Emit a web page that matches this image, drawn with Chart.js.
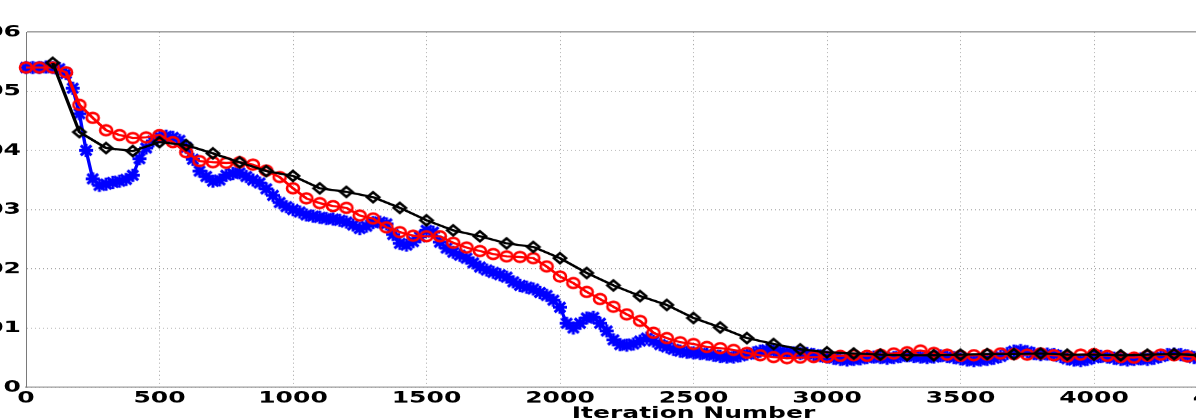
<!DOCTYPE html>
<html>
<head>
<meta charset="utf-8">
<script src="https://cdn.jsdelivr.net/npm/chart.js@4.4.1/dist/chart.umd.min.js"></script>
<style>
  html, body { margin: 0; padding: 0; background: #fff; overflow: hidden; width: 1196px; height: 419px; }
  #wrap { position: absolute; left: -41px; top: 0; transform: scaleY(0.64); transform-origin: 0 0; }
</style>
</head>
<body>
<div id="wrap"><canvas id="chart-canvas" width="1442" height="685"></canvas></div>
<script>
// blue '*' series, one value every 25 iterations (0 .. 4500)
const blueStep = 25;
const blueValues = [
    0.0540, 0.0540, 0.0540, 0.0541, 0.0540, 0.0538, 0.0530, 0.0505, // 0
    0.0462, 0.0400, 0.0352, 0.0341, 0.0343, 0.0346, 0.0348, 0.0351, // 200
    0.0358, 0.0386, 0.0404, 0.0416, 0.0423, 0.0424, 0.0422, 0.0417, // 400
    0.0405, 0.0385, 0.0365, 0.0356, 0.0348, 0.0350, 0.0358, 0.0361, // 600
    0.0362, 0.0356, 0.0350, 0.0345, 0.0335, 0.0324, 0.0312, 0.0305, // 800
    0.0300, 0.0296, 0.0291, 0.0289, 0.0287, 0.0285, 0.0284, 0.0282, // 1000
    0.0279, 0.0274, 0.0268, 0.0272, 0.0278, 0.0279, 0.0276, 0.0258, // 1200
    0.0243, 0.0240, 0.0246, 0.0254, 0.0265, 0.0262, 0.0245, 0.0235, // 1400
    0.0228, 0.0223, 0.0218, 0.0210, 0.0203, 0.0198, 0.0194, 0.0190, // 1600
    0.0186, 0.0178, 0.0172, 0.0169, 0.0166, 0.0160, 0.0155, 0.0147, // 1800
    0.0135, 0.0108, 0.0100, 0.0108, 0.0117, 0.0118, 0.0108, 0.0095, // 2000
    0.0080, 0.0072, 0.0071, 0.0073, 0.0078, 0.0083, 0.0078, 0.0072, // 2200
    0.0068, 0.0064, 0.0061, 0.0059, 0.0058, 0.0057, 0.0056, 0.0054, // 2400
    0.0052, 0.0051, 0.0051, 0.0053, 0.0056, 0.0058, 0.0061, 0.0063, // 2600
    0.0061, 0.0060, 0.0059, 0.0058, 0.0057, 0.0057, 0.0055, 0.0053, // 2800
    0.0051, 0.0049, 0.0047, 0.0046, 0.0047, 0.0048, 0.0050, 0.0051, // 3000
    0.0050, 0.0049, 0.0050, 0.0052, 0.0053, 0.0052, 0.0051, 0.0050, // 3200
    0.0051, 0.0053, 0.0052, 0.0050, 0.0048, 0.0046, 0.0045, 0.0046, // 3400
    0.0047, 0.0049, 0.0052, 0.0057, 0.0061, 0.0062, 0.0060, 0.0057, // 3600
    0.0055, 0.0056, 0.0055, 0.0052, 0.0048, 0.0046, 0.0045, 0.0047, // 3800
    0.0050, 0.0052, 0.0051, 0.0049, 0.0047, 0.0046, 0.0047, 0.0048, // 4000
    0.0047, 0.0049, 0.0052, 0.0055, 0.0056, 0.0055, 0.0053, 0.0050, // 4200
    0.0049, 0.0050, 0.0051, 0.0050, 0.0049                          // 4400
];

// red 'o' series, every 50 iterations
const redStep = 50;
const redValues = [
    0.0540, 0.0540, 0.0540, 0.0532, 0.0477, 0.0455, 0.0434, 0.0426, // 0
    0.0421, 0.0422, 0.0426, 0.0414, 0.0397, 0.0382, 0.0380, 0.0379, // 400
    0.0380, 0.0376, 0.0366, 0.0355, 0.0336, 0.0319, 0.0311, 0.0306, // 800
    0.0303, 0.0290, 0.0285, 0.0270, 0.0262, 0.0256, 0.0255, 0.0255, // 1200
    0.0244, 0.0236, 0.0230, 0.0225, 0.0221, 0.0220, 0.0218, 0.0204, // 1600
    0.0187, 0.0176, 0.0161, 0.0149, 0.0136, 0.0123, 0.0112, 0.0092, // 2000
    0.0083, 0.0076, 0.0073, 0.0068, 0.0066, 0.0063, 0.0058, 0.0054, // 2400
    0.0051, 0.0049, 0.0050, 0.0051, 0.0051, 0.0053, 0.0054, 0.0053, // 2800
    0.0055, 0.0057, 0.0059, 0.0062, 0.0058, 0.0055, 0.0053, 0.0054, // 3200
    0.0055, 0.0057, 0.0056, 0.0055, 0.0057, 0.0054, 0.0052, 0.0055, // 3600
    0.0056, 0.0053, 0.0051, 0.0050, 0.0053, 0.0055, 0.0054, 0.0052, // 4000
    0.0051, 0.0053, 0.0052                                          // 4400
];

// black diamond series, every 100 iterations starting at 100
const blackStart = 100;
const blackStep = 100;
const blackValues = [
    0.0548, 0.0431, 0.0404, 0.0399, 0.0414, 0.0409, 0.0395, 0.0380, 0.0365, 0.0357, // 100
    0.0336, 0.0330, 0.0321, 0.0303, 0.0282, 0.0265, 0.0255, 0.0243, 0.0237, 0.0218, // 1100
    0.0193, 0.0172, 0.0154, 0.0139, 0.0117, 0.0101, 0.0083, 0.0073, 0.0064, 0.0059, // 2100
    0.0057, 0.0055, 0.0054, 0.0054, 0.0055, 0.0056, 0.0056, 0.0057, 0.0055, 0.0055, // 3100
    0.0054, 0.0055, 0.0056, 0.0054, 0.0055                                          // 4100
];

const xTicks = [0, 500, 1000, 1500, 2000, 2500, 3000, 3500, 4000, 4500, 5000];
const yTicks = [0, 0.01, 0.02, 0.03, 0.04, 0.05, 0.06];

const squash = 0.64;   // the picture is squeezed vertically
const tickFont = { family: 'DejaVu Sans', weight: 'bold', size: 25 };

function toPoints(values, start, step) {
    return values.map((v, i) => ({ x: start + i * step, y: v }));
}

// markers are drawn in screen units, then stretched so the squash brings them back
function makeMarker(kind, color, w, h, lw) {
    const c = document.createElement('canvas');
    c.width = Math.ceil(w + 2 * lw);
    c.height = Math.ceil((h + 2 * lw) / squash);
    const ctx = c.getContext('2d');
    ctx.scale(1, 1 / squash);
    const cx = c.width / 2, cy = c.height * squash / 2;
    ctx.strokeStyle = color;
    ctx.lineWidth = lw;
    ctx.beginPath();
    if (kind === 'circle') {
        ctx.ellipse(cx, cy, w / 2, h / 2, 0, 0, Math.PI * 2);
    } else if (kind === 'diamond') {
        ctx.moveTo(cx, cy - h / 2);
        ctx.lineTo(cx + w / 2, cy);
        ctx.lineTo(cx, cy + h / 2);
        ctx.lineTo(cx - w / 2, cy);
        ctx.closePath();
    } else {
        ctx.moveTo(cx - w / 2, cy); ctx.lineTo(cx + w / 2, cy);
        ctx.moveTo(cx, cy - h / 2); ctx.lineTo(cx, cy + h / 2);
        ctx.moveTo(cx - w * 0.38, cy - h * 0.38); ctx.lineTo(cx + w * 0.38, cy + h * 0.38);
        ctx.moveTo(cx - w * 0.38, cy + h * 0.38); ctx.lineTo(cx + w * 0.38, cy - h * 0.38);
    }
    ctx.stroke();
    return c;
}

const data = {
    datasets: [{
        label: 'black',
        data: toPoints(blackValues, blackStart, blackStep),
        borderColor: '#000000',
        borderWidth: 3.4,
        pointStyle: makeMarker('diamond', '#000000', 12, 10, 2.6),
        pointRadius: 6,
        clip: false,
        order: 0
    }, {
        label: 'red',
        data: toPoints(redValues, 0, redStep),
        borderColor: '#ff0000',
        borderWidth: 3.4,
        pointStyle: makeMarker('circle', '#ff0000', 12, 10, 2.6),
        pointRadius: 6,
        clip: false,
        order: 1
    }, {
        label: 'blue',
        data: toPoints(blueValues, 0, blueStep),
        borderColor: '#0000ff',
        borderWidth: 3.4,
        pointStyle: makeMarker('star', '#0000ff', 14, 13, 3),
        pointRadius: 7,
        clip: false,
        order: 2
    }]
};

const config = {
    type: 'line',
    data,
    options: {
        responsive: false,
        animation: false,
        devicePixelRatio: 1,
        layout: { padding: { top: 50, right: 40, left: 0, bottom: 0 } },
        plugins: { legend: { display: false }, tooltip: { enabled: false } },
        scales: {
            x: {
                type: 'linear',
                min: xTicks[0],
                max: xTicks[xTicks.length - 1],
                afterBuildTicks: s => { s.ticks = xTicks.map(v => ({ value: v })); },
                afterFit: s => { s.height = 80; },
                ticks: {
                    font: tickFont, color: '#000', padding: 2, maxRotation: 0, autoSkip: false,
                    callback: v => String(v)
                },
                grid: { color: '#a8a8a8', lineWidth: 1, drawTicks: false },
                border: { color: '#7a7a7a', width: 1.6, dash: [1.6, 4.7] },
                title: {
                    display: true, text: 'Iteration Number', font: tickFont, color: '#000',
                    padding: { top: 0, bottom: 24 }
                }
            },
            y: {
                min: yTicks[0],
                max: yTicks[yTicks.length - 1],
                afterBuildTicks: s => { s.ticks = yTicks.map(v => ({ value: v })); },
                afterFit: s => { s.width = 67; },
                ticks: {
                    font: tickFont, color: '#000', padding: 5,
                    callback: v => (v === 0 ? '0' : v.toFixed(2))
                },
                grid: {
                    color: c => (c.tick && c.tick.value === 0.06 ? '#7a7a7a' : '#a8a8a8'),
                    lineWidth: 1.6,
                    drawTicks: false
                },
                border: {
                    color: '#7a7a7a', width: 1,
                    dash: c => (c.tick && c.tick.value === 0.06 ? [] : [1, 3])
                }
            }
        }
    }
};

let myChart = new Chart(document.getElementById('chart-canvas'), config);
</script>
</body>
</html>
